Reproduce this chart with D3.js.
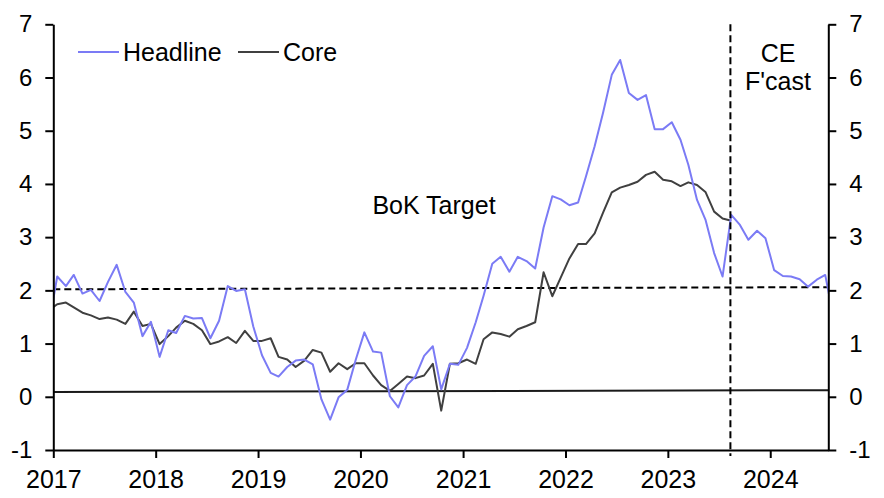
<!DOCTYPE html>
<html><head><meta charset="utf-8">
<script src="https://cdn.jsdelivr.net/npm/d3@7"></script>
<style>
body{margin:0;background:#fff}
svg text{font-family:"Liberation Sans",Arial,sans-serif;fill:#000}
</style>
</head><body>
<svg id="chart" width="884" height="498"></svg>
<script>
// ---- Data ----
const months = d3.timeMonth.range(new Date(2016,11,1), new Date(2024,8,1)).map(d => d3.timeFormat("%Y-%m")(d));
const headline = [
  1.32,
  2.26, 2.08, 2.29, 1.94, 2.01, 1.80, 2.16, 2.48, 1.97, 1.77, 1.14, 1.41,
  0.75, 1.25, 1.20, 1.52, 1.47, 1.48, 1.10, 1.43, 2.08, 1.99, 2.02, 1.32,
  0.78, 0.45, 0.38, 0.56, 0.68, 0.70, 0.61, -0.05, -0.43, -0.01, 0.13, 0.69,
  1.21, 0.85, 0.83, 0.01, -0.20, 0.22, 0.38, 0.77, 0.95, 0.14, 0.62, 0.60,
  0.92, 1.40, 1.90, 2.50, 2.63, 2.35, 2.63, 2.55, 2.41, 3.18, 3.77, 3.71,
  3.60, 3.65, 4.14, 4.71, 5.34, 6.05, 6.33, 5.71, 5.58, 5.67, 5.03, 5.03,
  5.16, 4.83, 4.36, 3.70, 3.33, 2.70, 2.26, 3.42, 3.23, 2.95, 3.12, 2.98,
  2.38, 2.27, 2.26, 2.21, 2.07, 2.20, 2.29, 1.45
];
const core = [
  1.62,
  1.74, 1.77, 1.68, 1.58, 1.53, 1.46, 1.49, 1.45, 1.37, 1.60, 1.33, 1.37,
  0.99, 1.14, 1.30, 1.43, 1.37, 1.25, 0.99, 1.04, 1.12, 1.01, 1.24, 1.05,
  1.05, 1.10, 0.75, 0.70, 0.56, 0.68, 0.88, 0.83, 0.47, 0.63, 0.52, 0.63,
  0.63, 0.40, 0.22, 0.11, 0.24, 0.38, 0.35, 0.40, 0.62, -0.26, 0.62, 0.63,
  0.70, 0.62, 1.08, 1.21, 1.18, 1.13, 1.27, 1.33, 1.40, 2.34, 1.89, 2.24,
  2.60, 2.87, 2.87, 3.07, 3.46, 3.84, 3.93, 3.98, 4.04, 4.17, 4.23, 4.08,
  4.05, 3.96, 4.03, 3.98, 3.85, 3.48, 3.35, 3.31
];
const targetEnds = [2.02, 2.06];      // BoK target dashed line (start, end)
const baseEnds = [0.09, 0.125];       // solid line near zero (start, end)
const forecastStart = "2023-08-12";
const yTicks = [-1, 0, 1, 2, 3, 4, 5, 6, 7];
const xTickYears = [2017, 2018, 2019, 2020, 2021, 2022, 2023, 2024];
const seriesNames = ["Headline", "Core"];
const colors = {Headline: "#7b7bf5", Core: "#404040"};

// ---- Layout ----
const svg = d3.select("#chart");
const L = 53.3, R = 828.3, T = 24.3, B = 450;
const parse = d3.timeParse("%Y-%m-%d");
const monthDate = m => parse(m + "-15");
const x = d3.scaleTime().domain([new Date(2017,0,1), new Date(2024,6,26)]).range([L, R]);
const y = d3.scaleLinear().domain([-1, 7]).range([B, T]);

svg.append("clipPath").attr("id","clip").append("rect")
  .attr("x", L).attr("y", 0).attr("width", R - L).attr("height", 498);

const line = d3.line().x(d => x(d.date)).y(d => y(d.v));
const hData = headline.map((v,i) => ({date: monthDate(months[i]), v}));
const cData = core.map((v,i) => ({date: monthDate(months[i]), v}));

const g = svg.append("g").attr("clip-path","url(#clip)");

// base line near zero
g.append("path").datum([{date:x.domain()[0], v:baseEnds[0]},{date:x.domain()[1], v:baseEnds[1]}])
  .attr("d", line).attr("fill","none").attr("stroke","#1a1a1a").attr("stroke-width",2);

// BoK target dashed
g.append("path").datum([{date:x.domain()[0], v:targetEnds[0]},{date:x.domain()[1], v:targetEnds[1]}])
  .attr("d", line).attr("fill","none").attr("stroke","#000").attr("stroke-width",2)
  .attr("stroke-dasharray","7,4");

// series
g.append("path").datum(cData).attr("d", line).attr("fill","none")
  .attr("stroke", colors.Core).attr("stroke-width", 2).attr("stroke-linejoin","round");
g.append("path").datum(hData).attr("d", line).attr("fill","none")
  .attr("stroke", colors.Headline).attr("stroke-width", 2).attr("stroke-linejoin","round");

// forecast vertical dashed
const fx = x(parse(forecastStart));
svg.append("line").attr("x1", fx).attr("x2", fx).attr("y1", y(7)).attr("y2", B + 6)
  .attr("stroke","#000").attr("stroke-width",2).attr("stroke-dasharray","7,4");

// ---- Axes ----
const fsY = 24, fsX = 25, fsT = 25;
const fmt = d => String(d);
const yLeft = d3.axisLeft(y).tickValues(yTicks).tickSize(8).tickSizeOuter(0).tickPadding(13).tickFormat(fmt);
const yRight = d3.axisRight(y).tickValues(yTicks).tickSize(8).tickSizeOuter(0).tickPadding(13).tickFormat(fmt);
const xAxis = d3.axisBottom(x).tickValues(xTickYears.map(yr => new Date(yr,0,1))).tickSize(8).tickSizeOuter(0)
  .tickPadding(12).tickFormat(d3.timeFormat("%Y"));

function style(fs){
  return sel => {
    sel.selectAll("path,line").attr("stroke","#000").attr("stroke-width",2);
    sel.selectAll("text").attr("font-size", fs).attr("font-family", '"Liberation Sans",Arial,sans-serif').attr("fill","#000");
  };
}
svg.append("g").attr("transform",`translate(${L},0)`).call(yLeft).call(style(fsY));
svg.append("g").attr("transform",`translate(${R},0)`).call(yRight).call(style(fsY));
svg.append("g").attr("transform",`translate(0,${B})`).call(xAxis).call(style(fsX));

// ---- Legend ----
const legendItems = [
  {name: seriesNames[0], x1: 78, x2: 119, tx: 123},
  {name: seriesNames[1], x1: 238, x2: 279, tx: 283}
];
legendItems.forEach(it => {
  svg.append("line").attr("x1", it.x1).attr("x2", it.x2).attr("y1", 52).attr("y2", 52)
    .attr("stroke", colors[it.name]).attr("stroke-width", 2);
  svg.append("text").attr("x", it.tx).attr("y", 61).attr("font-size", fsT).text(it.name);
});

// ---- Annotations ----
svg.append("text").attr("x", 434).attr("y", 214).attr("text-anchor","middle").attr("font-size", fsT).text("BoK Target");
svg.append("text").attr("x", 778).attr("y", 62).attr("text-anchor","middle").attr("font-size", fsT).text("CE");
svg.append("text").attr("x", 778).attr("y", 90).attr("text-anchor","middle").attr("font-size", fsT).text("F'cast");
</script>
</body></html>
